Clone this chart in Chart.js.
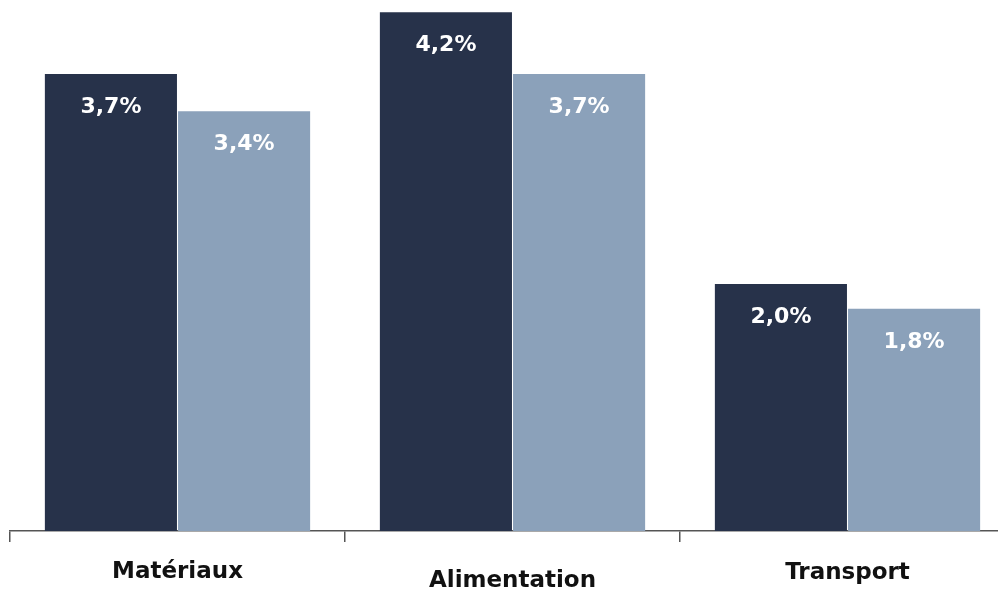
<!DOCTYPE html>
<html>

<head>
  <meta charset="utf-8">
  <title>Secteurs</title>
  <script src="https://cdn.jsdelivr.net/npm/chart.js"></script>
  <style>
    body { margin: 0; overflow: hidden; background: #fff; }
    #wrap { position: relative; width: 1015px; height: 591px; }
  </style>
</head>

<body>
  <div id="wrap"><canvas id="chart"></canvas></div>

  <script>
    const categories = ['Matériaux', 'Alimentation', 'Transport'];
    const seriesA = [3.7, 4.2, 2.0];
    const seriesB = [3.4, 3.7, 1.8];
    const yMax = 4.3;

    const darkColor = '#27324a';
    const lightColor = '#8ba1ba';
    const fontFamily = '"DejaVu Sans", sans-serif';

    function fmt(v) {
      return v.toFixed(1).replace('.', ',') + '%';
    }

    // white value labels just inside the top of each bar
    const valueLabels = {
      id: 'valueLabels',
      afterDatasetsDraw(chart) {
        const ctx = chart.ctx;
        ctx.save();
        ctx.fillStyle = '#fff';
        ctx.font = 'bold 22px ' + fontFamily;
        ctx.textAlign = 'center';
        ctx.textBaseline = 'alphabetic';
        chart.data.datasets.forEach((ds, i) => {
          chart.getDatasetMeta(i).data.forEach((bar, j) => {
            ctx.fillText(fmt(ds.data[j]), bar.x, bar.y + 39);
          });
        });
        ctx.restore();
      }
    };

    // category names under the axis (the middle one sits a bit lower)
    const labelDrop = [47, 56, 48];
    const categoryLabels = {
      id: 'categoryLabels',
      afterDraw(chart) {
        const ctx = chart.ctx;
        const xScale = chart.scales.x;
        ctx.save();
        ctx.fillStyle = '#111';
        ctx.font = 'bold 23px ' + fontFamily;
        ctx.textAlign = 'center';
        ctx.textBaseline = 'alphabetic';
        categories.forEach((c, i) => {
          ctx.fillText(c, xScale.getPixelForTick(i), chart.chartArea.bottom + labelDrop[i]);
        });
        ctx.restore();
      }
    };

    const ctx = document.getElementById('chart').getContext('2d');
    new Chart(ctx, {
      type: 'bar',
      data: {
        labels: categories,
        datasets: [
          { data: seriesA, backgroundColor: darkColor, borderWidth: 0 },
          { data: seriesB, backgroundColor: lightColor, borderWidth: 0 }
        ]
      },
      options: {
        responsive: true,
        maintainAspectRatio: false,
        animation: false,
        layout: { padding: { left: 10, right: 0, top: 0, bottom: 0 } },
        datasets: {
          bar: { categoryPercentage: 0.795, barPercentage: 0.992 }
        },
        plugins: {
          legend: { display: false },
          tooltip: { enabled: false }
        },
        scales: {
          x: {
            afterFit(scale) { scale.height = 60; },
            grid: {
              display: true,
              offset: true,
              drawOnChartArea: false,
              drawTicks: true,
              tickLength: 11,
              color: '#555',
              lineWidth: 1.5
            },
            border: { display: true, color: '#555', width: 1.5 },
            ticks: { display: false }
          },
          y: {
            display: false,
            min: 0,
            max: yMax
          }
        }
      },
      plugins: [valueLabels, categoryLabels]
    });
  </script>
</body>

</html>
